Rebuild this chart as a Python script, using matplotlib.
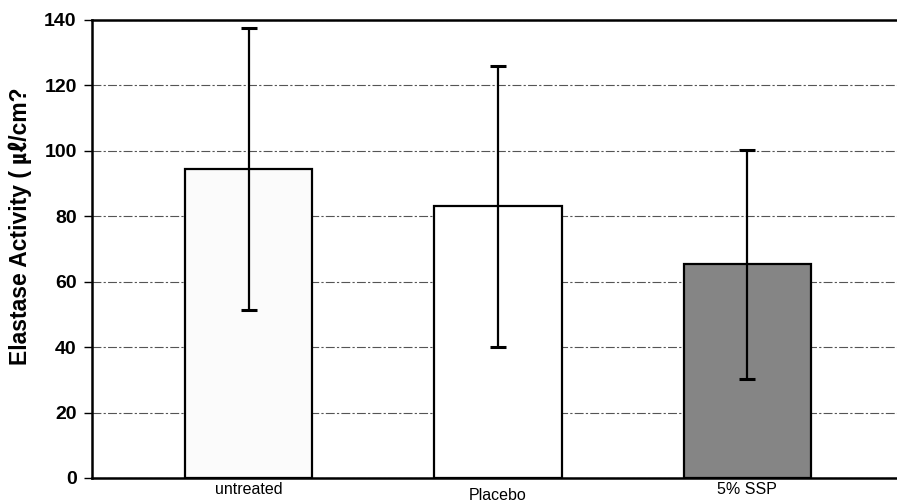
import matplotlib
matplotlib.use("Agg")
import matplotlib.pyplot as plt

plt.rcParams['font.family'] = ['Liberation Sans', 'Noto Sans CJK KR', 'DejaVu Sans']

categories = ["untreated", "Placebo", "5% SSP"]
values = [94.5, 83, 65.3]
errors = [43, 43, 35]
yticks = [0, 20, 40, 60, 80, 100, 120, 140]
colors = ["#fbfbfb", "#ffffff", "#858585"]

fig = plt.figure(figsize=(8.97, 5.04), dpi=100)
ax = fig.add_axes([92/897, 1-478/504, (904-92)/897, (478-20)/504])

x = list(range(len(categories)))
ax.bar(x, values, width=0.51, color=colors, edgecolor="black", linewidth=1.6, zorder=2)
ax.errorbar(x, values, yerr=errors, fmt="none", ecolor="black", elinewidth=1.6,
            capsize=6, capthick=2.2, zorder=3)

ax.set_ylim(0, 140)
ax.set_xlim(-0.63, 2.63)
ax.set_yticks(yticks)
ax.set_yticklabels([str(t) for t in yticks], fontsize=14, fontweight="bold")
ax.set_xticks(x)
ax.set_xticklabels(categories, fontsize=11.5)
ax.tick_params(axis="x", length=0, pad=3)
ax.tick_params(axis="y", length=6, width=1.0, direction="out", pad=5)
lbls = ax.get_xticklabels()
lbls[1].set_y(-0.012)

ax.yaxis.grid(True, color="#555555", linewidth=0.8, linestyle=(0, (8, 2, 2, 2)), zorder=0)
ax.set_axisbelow(True)
ax.spines["right"].set_visible(False)
for s in ["left", "bottom", "top"]:
    ax.spines[s].set_linewidth(1.8)

ax.set_ylabel("Elastase Activity ( \u3395/cm?", fontsize=16.5, fontweight="bold")
ax.yaxis.set_label_coords(-0.074, 0.55)

fig.savefig("out.png", dpi=100)
